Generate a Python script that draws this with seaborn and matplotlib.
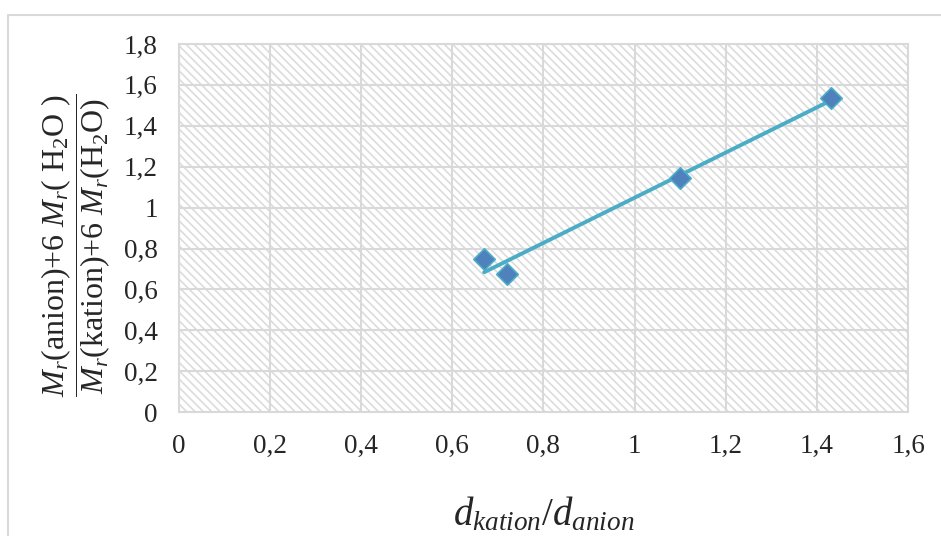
import numpy as np
import pandas as pd
import seaborn as sns
import matplotlib.pyplot as plt
from matplotlib.patches import Rectangle
from matplotlib.lines import Line2D

# ratio of densities vs. ratio of molar masses
d_ratio = [0.67, 0.72, 1.10, 1.43]
m_ratio = [0.75, 0.675, 1.145, 1.535]

x_ticks = [0, 0.2, 0.4, 0.6, 0.8, 1.0, 1.2, 1.4, 1.6]
y_ticks = [0, 0.2, 0.4, 0.6, 0.8, 1.0, 1.2, 1.4, 1.6, 1.8]
x_tick_labels = ['0', '0,2', '0,4', '0,6', '0,8', '1', '1,2', '1,4', '1,6']
y_tick_labels = ['0', '0,2', '0,4', '0,6', '0,8', '1', '1,2', '1,4', '1,6', '1,8']

df = pd.DataFrame({'d': d_ratio, 'm': m_ratio})

sns.set_style('white')
plt.rcParams['font.family'] = ['Liberation Serif', 'DejaVu Serif']
plt.rcParams['mathtext.fontset'] = 'custom'
plt.rcParams['mathtext.rm'] = 'Liberation Serif'
plt.rcParams['mathtext.it'] = 'Liberation Serif:italic'
plt.rcParams['hatch.linewidth'] = 1.2

fig = plt.figure(figsize=(9.41, 5.36), dpi=100)
ax = fig.add_axes([0.190, 0.231, 0.775, 0.687])

# hatched plot area background
ax.add_patch(Rectangle((0, 0), 1, 1, transform=ax.transAxes, facecolor='white',
                       edgecolor='#dcdcdc', hatch='\\\\\\\\', linewidth=0, zorder=0))

ax.grid(True, color='#d9d9d9', linewidth=1.5, zorder=1)
ax.set_axisbelow(True)

sns.regplot(data=df, x='d', y='m', ax=ax, scatter=False, ci=None,
            line_kws={'color': '#4bacc6', 'linewidth': 2.8, 'zorder': 3})
sns.scatterplot(data=df, x='d', y='m', ax=ax, marker='D', s=120,
                color='#4f81bd', edgecolor='#4bacc6', linewidth=1.2, zorder=4)

ax.set_xlim(0, 1.6)
ax.set_ylim(0, 1.8)
ax.set_xticks(x_ticks)
ax.set_xticklabels(x_tick_labels)
ax.set_yticks(y_ticks)
ax.set_yticklabels(y_tick_labels)
ax.tick_params(axis='x', labelsize=19.5, length=0, pad=16)
ax.tick_params(axis='y', labelsize=19.5, length=0, pad=15)

for s in ax.spines.values():
    s.set_color('#d9d9d9')
    s.set_linewidth(1.5)

ax.set_xlabel(r'$d_{kation}/d_{anion}$', fontsize=28, labelpad=26)
ax.set_ylabel(r'$\dfrac{M_r(\mathrm{anion}){+}6\ M_r(\ \mathrm{H_2O}\ )}'
              r'{M_r(\mathrm{kation}){+}6\ M_r(\mathrm{H_2O})}$',
              fontsize=23)
ax.yaxis.set_label_coords(-0.09, 0.455)

# chart area border (left and top visible)
fig.add_artist(Line2D([8 / 941, 8 / 941], [0, 1 - 15 / 536], transform=fig.transFigure,
                      color='#d9d9d9', linewidth=1.5))
fig.add_artist(Line2D([8 / 941, 1], [1 - 15 / 536, 1 - 15 / 536], transform=fig.transFigure,
                      color='#d9d9d9', linewidth=1.5))

fig.savefig('out.png', dpi=100)
